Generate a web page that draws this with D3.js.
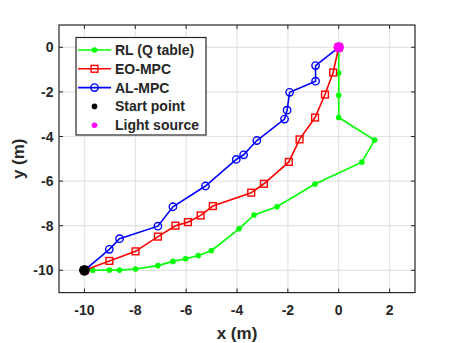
<!DOCTYPE html>
<html><head><meta charset="utf-8">
<script src="https://cdn.jsdelivr.net/npm/d3@7"></script>
<style>body{margin:0;background:#fff}svg{display:block}text{font-family:"Liberation Sans",Arial,sans-serif;font-weight:bold;fill:#262626}</style>
</head><body><svg id="c" width="458" height="343"></svg>
<script>
const xTicks = [-10,-8,-6,-4,-2,0,2];
const yTicks = [0,-2,-4,-6,-8,-10];
const rlX = [-10,-9.67,-9.02,-8.62,-7.99,-7.11,-6.52,-6.02,-5.52,-5.01,-3.92,-3.33,-2.43,-0.93,0.91,1.41,0,0,0,0];
const rlY = [-10,-10.0,-9.99,-9.99,-9.94,-9.79,-9.6,-9.48,-9.34,-9.12,-8.14,-7.52,-7.15,-6.13,-5.15,-4.16,-3.15,-2.15,-1.15,0];
const eoX = [-10,-9.02,-7.99,-7.11,-6.42,-5.93,-5.43,-4.95,-3.44,-2.94,-1.96,-1.54,-0.93,-0.54,-0.22,0];
const eoY = [-10,-9.58,-9.15,-8.49,-8.0,-7.84,-7.54,-7.12,-6.52,-6.12,-5.14,-4.13,-3.15,-2.12,-1.13,0];
const alX = [-10,-9.02,-8.62,-7.11,-6.52,-5.24,-4.03,-3.74,-3.22,-2.13,-2.03,-1.93,-0.91,-0.91,0];
const alY = [-10,-9.06,-8.58,-8.02,-7.15,-6.22,-5.03,-4.82,-4.18,-3.22,-2.82,-2.02,-1.52,-0.82,0];
const startPt = [-10,-10];
const lightPt = [0,0];
const legendLabels = ["RL (Q table)","EO-MPC","AL-MPC","Start point","Light source"];

const svg = d3.select("#c");
const L=59,R=415,T=25,B=292.6;
const x = d3.scaleLinear().domain([-11,3]).range([L,R]);
const y = d3.scaleLinear().domain([-11,1]).range([B,T]);
const g = svg.append("g");
// grid
g.selectAll(".gx").data(xTicks).enter().append("line").attr("x1",d=>x(d)).attr("x2",d=>x(d)).attr("y1",T).attr("y2",B).attr("stroke","#e3e3e3").attr("stroke-width",1.2);
g.selectAll(".gy").data(yTicks).enter().append("line").attr("y1",d=>y(d)).attr("y2",d=>y(d)).attr("x1",L).attr("x2",R).attr("stroke","#e3e3e3").attr("stroke-width",1.2);
// ticks inward on all sides
const tl=4;
xTicks.forEach(d=>{
  g.append("line").attr("x1",x(d)).attr("x2",x(d)).attr("y1",B).attr("y2",B-tl).attr("stroke","#262626");
  g.append("line").attr("x1",x(d)).attr("x2",x(d)).attr("y1",T).attr("y2",T+tl).attr("stroke","#262626");
});
yTicks.forEach(d=>{
  g.append("line").attr("y1",y(d)).attr("y2",y(d)).attr("x1",L).attr("x2",L+tl).attr("stroke","#262626");
  g.append("line").attr("y1",y(d)).attr("y2",y(d)).attr("x1",R).attr("x2",R-tl).attr("stroke","#262626");
});
// tick labels
g.selectAll(".xl").data(xTicks).enter().append("text").attr("x",d=>x(d)).attr("y",B+22.5).attr("text-anchor","middle").attr("font-size",14).text(d=>d);
g.selectAll(".yl").data(yTicks).enter().append("text").attr("x",L-5.5).attr("y",d=>y(d)+5).attr("text-anchor","end").attr("font-size",14).text(d=>d);
// axis labels
g.append("text").attr("x",(L+R)/2).attr("y",339).attr("text-anchor","middle").attr("font-size",17).text("x (m)");
g.append("text").attr("transform",`translate(24,${(T+B)/2}) rotate(-90)`).attr("text-anchor","middle").attr("font-size",17).text("y (m)");

const line = d3.line().x(d=>x(d[0])).y(d=>y(d[1]));
const rl = rlX.map((v,i)=>[v,rlY[i]]);
const eo = eoX.map((v,i)=>[v,eoY[i]]);
const al = alX.map((v,i)=>[v,alY[i]]);
const GREEN="#00ff00",RED="#ff0000",BLUE="#0000ff";
g.append("path").attr("d",line(rl)).attr("fill","none").attr("stroke",GREEN).attr("stroke-width",1.6);
g.selectAll(".rm").data(rl).enter().append("circle").attr("cx",d=>x(d[0])).attr("cy",d=>y(d[1])).attr("r",2.8).attr("fill",GREEN);
g.append("path").attr("d",line(eo)).attr("fill","none").attr("stroke",RED).attr("stroke-width",1.6);
g.selectAll(".em").data(eo).enter().append("rect").attr("x",d=>x(d[0])-3.4).attr("y",d=>y(d[1])-3.4).attr("width",6.8).attr("height",6.8).attr("fill","none").attr("stroke",RED).attr("stroke-width",1.4);
g.append("path").attr("d",line(al)).attr("fill","none").attr("stroke",BLUE).attr("stroke-width",1.6);
g.selectAll(".am").data(al).enter().append("circle").attr("cx",d=>x(d[0])).attr("cy",d=>y(d[1])).attr("r",3.7).attr("fill","none").attr("stroke",BLUE).attr("stroke-width",1.4);
g.append("circle").attr("cx",x(startPt[0])).attr("cy",y(startPt[1])).attr("r",5.4).attr("fill","#000");
g.append("circle").attr("cx",x(lightPt[0])).attr("cy",y(lightPt[1])).attr("r",5.2).attr("fill","#ff00ff");
// frame
g.append("rect").attr("x",L).attr("y",T).attr("width",R-L).attr("height",B-T).attr("fill","none").attr("stroke","#262626").attr("stroke-width",1.2);
// legend
const lg = svg.append("g");
lg.append("rect").attr("x",76).attr("y",37.5).attr("width",130).attr("height",97.5).attr("fill","#fff").attr("stroke","#262626").attr("stroke-width",1.2);
const ly = d=>50+d*18.8;
const lx1=78,lx2=111,lm=94.5;
lg.append("line").attr("x1",lx1).attr("x2",lx2).attr("y1",ly(0)).attr("y2",ly(0)).attr("stroke",GREEN).attr("stroke-width",1.6);
lg.append("circle").attr("cx",lm).attr("cy",ly(0)).attr("r",2.8).attr("fill",GREEN);
lg.append("line").attr("x1",lx1).attr("x2",lx2).attr("y1",ly(1)).attr("y2",ly(1)).attr("stroke",RED).attr("stroke-width",1.6);
lg.append("rect").attr("x",lm-3.4).attr("y",ly(1)-3.4).attr("width",6.8).attr("height",6.8).attr("fill","none").attr("stroke",RED).attr("stroke-width",1.4);
lg.append("line").attr("x1",lx1).attr("x2",lx2).attr("y1",ly(2)).attr("y2",ly(2)).attr("stroke",BLUE).attr("stroke-width",1.6);
lg.append("circle").attr("cx",lm).attr("cy",ly(2)).attr("r",3.7).attr("fill","none").attr("stroke",BLUE).attr("stroke-width",1.4);
lg.append("circle").attr("cx",lm).attr("cy",ly(3)).attr("r",2.8).attr("fill","#000");
lg.append("circle").attr("cx",lm).attr("cy",ly(4)).attr("r",2.8).attr("fill","#ff00ff");
legendLabels.forEach((t,i)=>lg.append("text").attr("x",115).attr("y",ly(i)+5).attr("font-size",14).text(t));
</script></body></html>
